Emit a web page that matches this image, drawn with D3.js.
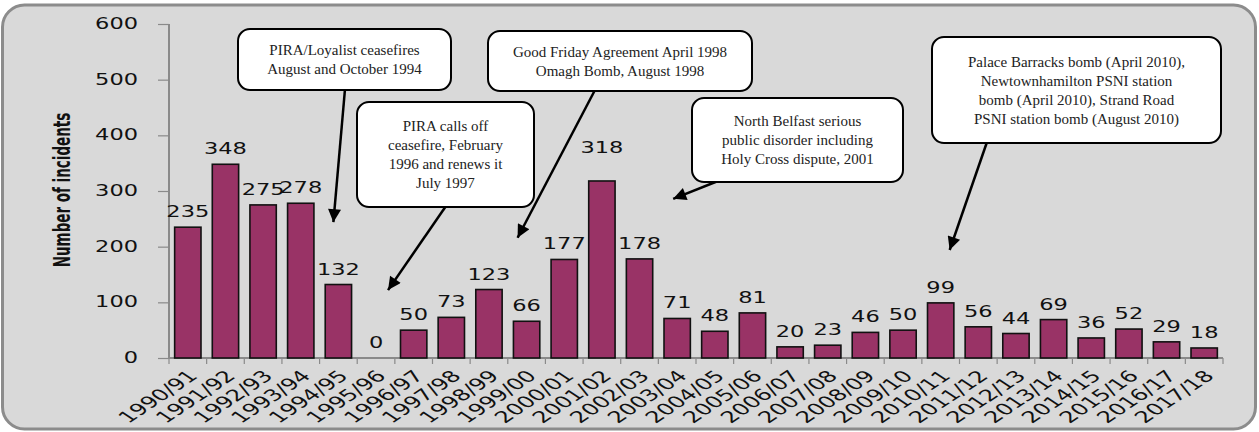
<!DOCTYPE html>
<meta charset="utf-8">
<script src="https://d3js.org/d3.v7.min.js"></script>
<style>
  body { margin: 0; background: #fff; }
  .num { font-family: "DejaVu Sans", Verdana, sans-serif; font-size: 15px; fill: #111; }
  .note { font-family: "Liberation Serif", "Times New Roman", serif; font-size: 15px; fill: #222; }
</style>
<div id="chart"></div>
<script>
// data
var years = ["1990/91","1991/92","1992/93","1993/94","1994/95","1995/96","1996/97","1997/98",
  "1998/99","1999/00","2000/01","2001/02","2002/03","2003/04","2004/05","2005/06","2006/07",
  "2007/08","2008/09","2009/10","2010/11","2011/12","2012/13","2013/14","2014/15","2015/16",
  "2016/17","2017/18"];
var incidents = [235,348,275,278,132,0,50,73,123,66,177,318,178,71,48,81,20,23,46,50,99,56,44,69,36,52,29,18];
var yTicks = [0,100,200,300,400,500,600];
var yTitle = "Number of incidents";

// callouts: text, the year the arrow points at, and the level it points to
var noteText = [
  ["PIRA/Loyalist ceasefires", "August and October 1994"],
  ["PIRA calls off", "ceasefire, February", "1996 and renews it", "July 1997"],
  ["Good Friday Agreement April 1998", "Omagh Bomb, August 1998"],
  ["North Belfast serious", "public disorder including", "Holy Cross dispute, 2001"],
  ["Palace Barracks bomb (April 2010),", "Newtownhamilton PSNI station", "bomb (April 2010), Strand Road", "PSNI station bomb (August 2010)"]
];
var noteYear = ["1994/95", "1995/96", "1999/00", "2003/04", "2010/11"];
var noteLevel = [244, 122, 216, 286, 194];

// callout layout (pixels)
var boxes = [
  {x: 238, y: 29, w: 213, h: 61, sx: 345, dx: -5},
  {x: 357, y: 102, w: 177, h: 105, sx: 446, dx: 12},
  {x: 488, y: 31, w: 264, h: 60, sx: 595, dx: -9},
  {x: 692, y: 98, w: 211, h: 84, sx: 718, dx: -4},
  {x: 932, y: 37, w: 289, h: 106, sx: 987, dx: 9}
];

var W = 1259, H = 432;
var stretch = 1.5; // the original chart is drawn wide
var plotL = 169, plotR = 1223, plotT = 24, plotB = 358;

var svg = d3.select("#chart").append("svg")
  .attr("width", W).attr("height", H);

svg.append("defs").append("marker")
  .attr("id", "arrow")
  .attr("viewBox", "0 0 10 10")
  .attr("refX", 10).attr("refY", 5)
  .attr("markerUnits", "userSpaceOnUse")
  .attr("markerWidth", 17).attr("markerHeight", 13)
  .attr("orient", "auto")
  .append("path").attr("d", "M0,0 L10,5 L0,10 z").attr("fill", "#000");

// frame
svg.append("rect")
  .attr("x", 2.5).attr("y", 5).attr("width", 1253).attr("height", 424)
  .attr("rx", 22)
  .attr("fill", "#d9d9d9").attr("stroke", "#8c8c8c").attr("stroke-width", 3);

var x = d3.scaleBand().domain(years).range([plotL, plotR]).paddingInner(0.3).paddingOuter(0.15);
var y = d3.scaleLinear().domain([0, 600]).range([plotB, plotT]);
var step = (plotR - plotL) / years.length;

// y axis
var yAxis = svg.append("g").attr("transform", "translate(" + plotL + ",0)")
  .call(d3.axisLeft(y).tickValues(yTicks).tickSize(11).tickFormat(function(d) { return ""; }));
yAxis.selectAll("line").attr("stroke", "#8a8a8a").attr("stroke-width", 1.2);
yAxis.select(".domain").attr("stroke", "#8a8a8a").attr("stroke-width", 2).attr("d", "M0," + plotT + "V" + plotB);

svg.selectAll("ylab").data(yTicks).enter().append("text")
  .attr("class", "num")
  .attr("transform", function(d) { return "translate(138," + (y(d) + 5) + ") scale(" + stretch + ",1)"; })
  .attr("text-anchor", "end")
  .text(function(d) { return d; });

// x axis
var xg = svg.append("g");
xg.append("line").attr("x1", plotL).attr("x2", plotR).attr("y1", plotB).attr("y2", plotB)
  .attr("stroke", "#8a8a8a").attr("stroke-width", 2);
xg.selectAll("tick").data(d3.range(years.length + 1)).enter().append("line")
  .attr("x1", function(i) { return plotL + i * step; })
  .attr("x2", function(i) { return plotL + i * step; })
  .attr("y1", plotB).attr("y2", plotB + 6)
  .attr("stroke", "#8a8a8a").attr("stroke-width", 1.2);

svg.selectAll("xlab").data(years).enter().append("text")
  .attr("class", "num")
  .style("font-size", "16px")
  .attr("text-anchor", "end")
  .attr("transform", function(d) {
    return "translate(" + (x(d) + x.bandwidth() / 2 + 11) + "," + (plotB + 19) + ") scale(" + stretch + ",1) rotate(-45)";
  })
  .text(function(d) { return d; });

// bars
svg.selectAll("bar").data(years).enter().append("rect")
  .attr("x", function(d) { return x(d); })
  .attr("y", function(d, i) { return y(incidents[i]); })
  .attr("width", x.bandwidth())
  .attr("height", function(d, i) { return plotB - y(incidents[i]); })
  .attr("fill", "#993366").attr("stroke", "#111").attr("stroke-width", 1.6);

// value labels (the 2001/02 label sits higher in the original)
svg.selectAll("val").data(years).enter().append("text")
  .attr("class", "num")
  .attr("text-anchor", "middle")
  .attr("transform", function(d, i) {
    var lift = d === "2001/02" ? 18 : 0;
    return "translate(" + (x(d) + x.bandwidth() / 2) + "," + (y(incidents[i]) - 10 - lift) + ") scale(" + stretch + ",1)";
  })
  .text(function(d, i) { return incidents[i]; });

// y title
svg.append("text")
  .attr("transform", "translate(70,190) scale(" + stretch + ",1) rotate(-90)")
  .attr("text-anchor", "middle")
  .style("font-family", "'Liberation Sans Narrow', 'DejaVu Sans Condensed', sans-serif")
  .style("font-weight", "bold")
  .style("font-size", "15px")
  .attr("fill", "#111")
  .text(yTitle);

// callouts
boxes.forEach(function(b, i) {
  var tipX = x(noteYear[i]) + x.bandwidth() / 2 + b.dx;
  var tipY = y(noteLevel[i]);
  svg.append("line")
    .attr("x1", b.sx).attr("y1", b.y + b.h - 1)
    .attr("x2", tipX).attr("y2", tipY)
    .attr("stroke", "#000").attr("stroke-width", 2.5)
    .attr("marker-end", "url(#arrow)");
});
boxes.forEach(function(b, i) {
  var g = svg.append("g");
  g.append("rect")
    .attr("x", b.x).attr("y", b.y).attr("width", b.w).attr("height", b.h)
    .attr("rx", 12)
    .attr("fill", "#fff").attr("stroke", "#000").attr("stroke-width", 2);
  var lines = noteText[i];
  var cy = b.y + b.h / 2 - (lines.length - 1) * 19 / 2;
  g.selectAll("t").data(lines).enter().append("text")
    .attr("class", "note")
    .attr("text-anchor", "middle")
    .attr("x", b.x + b.w / 2)
    .attr("y", function(d, j) { return cy + j * 19 + 5; })
    .text(function(d) { return d; });
});
</script>
